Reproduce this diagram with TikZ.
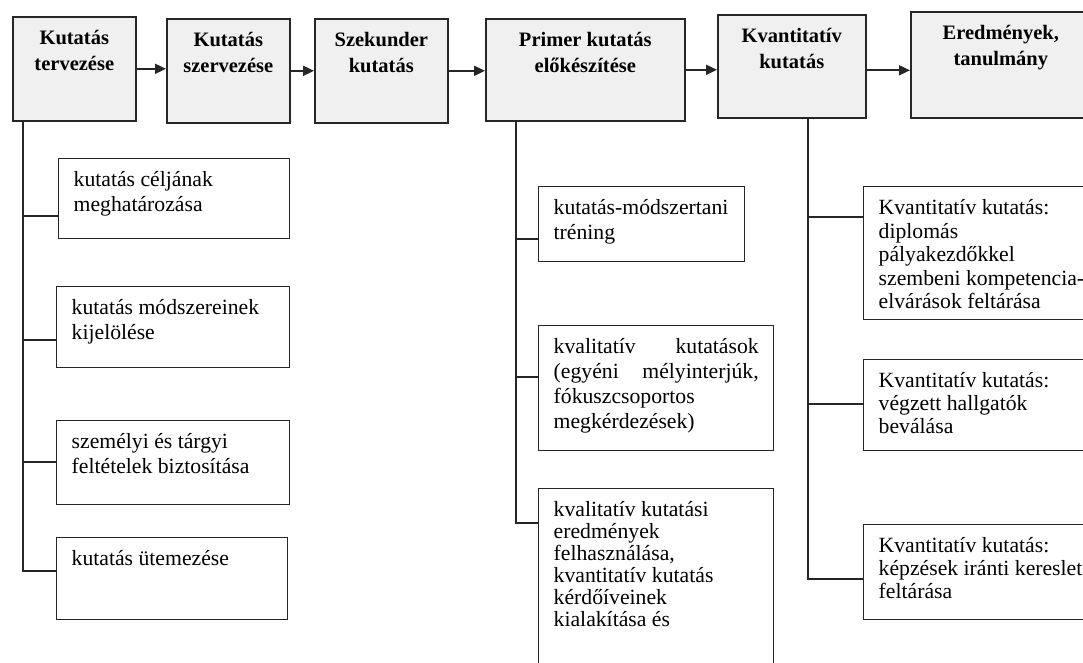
\documentclass[tikz,border=0pt]{standalone}
\usepackage{fontspec}
\setmainfont{Liberation Serif}
\usetikzlibrary{arrows.meta}

\newcommand{\boxtxt}[4][\raggedright]{\parbox[t][#3][t]{#2}{#1\rule{0pt}{28pt}#4}}

\tikzset{
	phase/.style={draw=black!85, fill=black!6, line width=1.6pt, anchor=north west, inner sep=0pt, font=\fontsize{20.5}{26}\selectfont\bfseries},
	task/.style={draw=black!85, line width=1.4pt, anchor=north west, inner xsep=15pt, inner ysep=0pt, font=\fontsize{21.7}{25}\selectfont},
	link/.style={draw=black!85, line width=1.3pt},
	flow/.style={draw=black!85, line width=1.8pt, -{Triangle[length=11pt,width=10pt]}}
}

\begin{document}
\begin{tikzpicture}[x=1pt, y=-1pt]
		\useasboundingbox[fill=white] (0,0) rectangle (1083,662);
		
		% main phases
		\node[phase] (t_1) at (12,16) {\boxtxt[\centering]{123pt}{104pt}{Kutatás\\tervezése}};
		\node[phase] (t_2) at (166,18) {\boxtxt[\centering]{123pt}{104pt}{Kutatás\\szervezése}};
		\node[phase] (t_3) at (314,18) {\boxtxt[\centering]{133pt}{104pt}{Szekunder\\kutatás}};
		\node[phase] (t_4) at (485,18) {\boxtxt[\centering]{199pt}{102pt}{Primer kutatás\\előkészítése}};
		\node[phase] (t_5) at (717,14) {\boxtxt[\centering]{148pt}{103pt}{Kvantitatív\\kutatás}};
		\node[phase] (t_6) at (910,11) {\boxtxt[\centering]{180pt}{106pt}{Eredmények,\\tanulmány}};
		
		\draw[flow] (t_1.east) -- (t_1.east -| t_2.west);
		\draw[flow] (t_2.east) -- (t_2.east -| t_3.west);
		\draw[flow] (t_3.east) -- (t_3.east -| t_4.west);
		\draw[flow] (t_4.east) -- (t_4.east -| t_5.west);
		\draw[flow] ([yshift=-4pt]t_5.east) -- ([yshift=-4pt]t_5.east -| t_6.west);
		
		% tervezés
		\node[task] (l_1) at (58,158) {\boxtxt{201pt}{80pt}{kutatás céljának\\meghatározása}};
		\node[task] (l_2) at (56,286) {\boxtxt{203pt}{81pt}{kutatás módszereinek\\kijelölése}};
		\node[task] (l_3) at (56,420) {\boxtxt{203pt}{84pt}{személyi és tárgyi\\feltételek biztosítása}};
		\node[task] (l_4) at (56,537) {\boxtxt{201pt}{82pt}{kutatás ütemezése}};
		
		\draw[link] ([xshift=11pt]t_1.south west) |- ([yshift=-58pt]l_1.north west);
		\draw[link] ([xshift=11pt]t_1.south west) |- ([yshift=-54pt]l_2.north west);
		\draw[link] ([xshift=11pt]t_1.south west) |- ([yshift=-42pt]l_3.north west);
		\draw[link] ([xshift=11pt]t_1.south west) |- ([yshift=-34pt]l_4.north west);
		
		% primer kutatás
		\node[task] (m_1) at (538,186) {\boxtxt{176pt}{75pt}{kutatás-módszertani\\tréning}};
		\node[task] (m_2) at (538,325) {\boxtxt{205pt}{125pt}{kvalitatív\hfill kutatások\\(egyéni\hfill mélyinterjúk,\\fókuszcsoportos\\megkérdezések)}};
		\node[task, font=\fontsize{21.7}{22}\selectfont] (m_3) at (538,488) {\boxtxt{205pt}{200pt}{kvalitatív kutatási\\eredmények\\felhasználása,\\kvantitatív kutatás\\kérdőíveinek\\kialakítása és}};
		
		\draw[link] ([xshift=31pt]t_4.south west) |- ([yshift=-53pt]m_1.north west);
		\draw[link] ([xshift=31pt]t_4.south west) |- ([yshift=-52pt]m_2.north west);
		\draw[link] ([xshift=31pt]t_4.south west) |- ([yshift=-35pt]m_3.north west);
		
		% kvantitatív kutatás
		\node[task, font=\fontsize{21.7}{23.5}\selectfont] (r_1) at (863,186) {\boxtxt{210pt}{133pt}{Kvantitatív kutatás:\\diplomás\\pályakezdőkkel\\szembeni kompetencia-\\elvárások feltárása}};
		\node[task, font=\fontsize{21.7}{23}\selectfont] (r_2) at (863,359) {\boxtxt{210pt}{91pt}{Kvantitatív kutatás:\\végzett hallgatók\\beválása}};
		\node[task, font=\fontsize{21.7}{23}\selectfont] (r_3) at (863,524) {\boxtxt{210pt}{95pt}{Kvantitatív kutatás:\\képzések iránti kereslet\\feltárása}};
		
		\draw[link] ([xshift=91pt]t_5.south west) |- ([yshift=-31pt]r_1.north west);
		\draw[link] ([xshift=91pt]t_5.south west) |- ([yshift=-45pt]r_2.north west);
		\draw[link] ([xshift=91pt]t_5.south west) |- ([yshift=-55pt]r_3.north west);
		
\end{tikzpicture}
\end{document}
